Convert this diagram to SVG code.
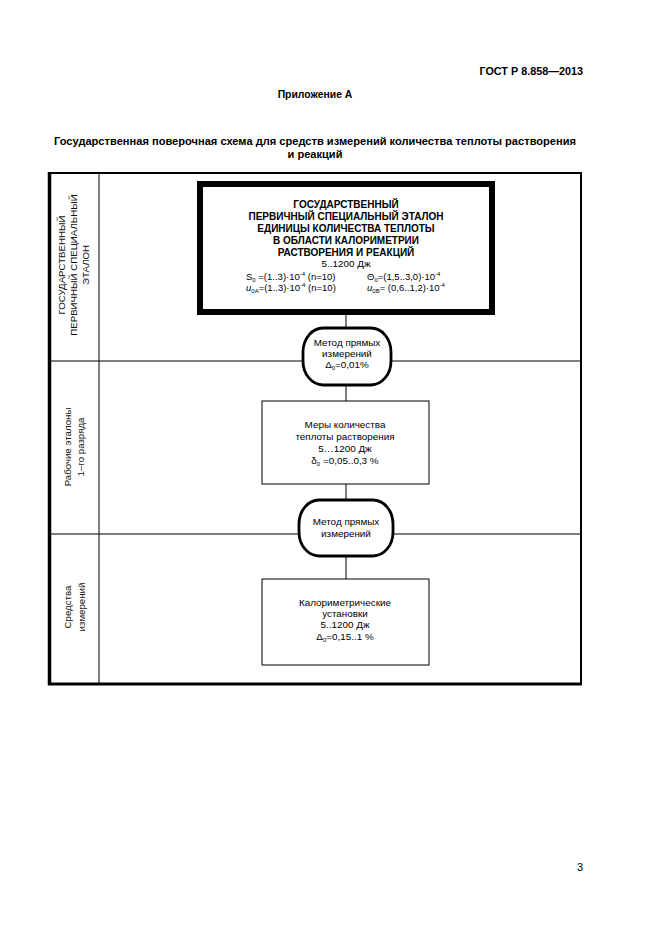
<svg xmlns="http://www.w3.org/2000/svg" width="661" height="935" viewBox="0 0 661 935">
<style>
text{font-family:"Liberation Sans",Arial,sans-serif;fill:#000}
.b{font-weight:bold}
.h{font-size:11.1px;font-weight:bold}
.n{font-size:9.9px;text-anchor:middle}
.m{font-size:10px;font-weight:bold;text-anchor:middle}
.s{font-size:9.5px}
.lab{font-size:9.7px;text-anchor:middle;fill:#111}
.thin{stroke:#000;stroke-width:1;fill:none}
.box{fill:#fff;stroke:#000;stroke-width:1}
.oval{fill:#fff;stroke:#000;stroke-width:2.8}
</style>
<rect width="661" height="935" fill="#fff"/>
<text class="b" x="583" y="75" font-size="10.8" text-anchor="end">ГОСТ Р 8.858—2013</text>
<text class="b" x="315" y="98" font-size="10.4" text-anchor="middle">Приложение А</text>
<text class="h" x="315" y="145" text-anchor="middle">Государственная поверочная схема для средств измерений количества теплоты растворения</text>
<text class="h" x="315" y="158" text-anchor="middle">и реакций</text>
<g id="table">
<rect x="49" y="173" width="532" height="511" fill="none" stroke="#000" stroke-width="2"/>
<line x1="49.5" y1="172" x2="49.5" y2="685" stroke="#000" stroke-width="3.5"/>
<line x1="48" y1="684" x2="582" y2="684" stroke="#000" stroke-width="3"/>
<line class="thin" x1="99" y1="174" x2="99" y2="683"/>
<line class="thin" x1="50" y1="361" x2="580" y2="361"/>
<line class="thin" x1="50" y1="534" x2="580" y2="534"/>
</g>
<g id="labels">
<text class="lab" transform="translate(64.5,265) rotate(-90)">ГОСУДАРСТВЕННЫЙ</text>
<text class="lab" transform="translate(76.5,265) rotate(-90)">ПЕРВИЧНЫЙ СПЕЦИАЛЬНЫЙ</text>
<text class="lab" transform="translate(88.5,265) rotate(-90)">ЭТАЛОН</text>
<text class="lab" transform="translate(70.5,447) rotate(-90)">Рабочие эталоны</text>
<text class="lab" transform="translate(84,447) rotate(-90)">1–го разряда</text>
<text class="lab" transform="translate(71,607) rotate(-90)">Средства</text>
<text class="lab" transform="translate(84.5,607) rotate(-90)">измерений</text>
</g>
<g id="connectors">
<line class="thin" x1="346" y1="312" x2="346" y2="330"/>
<line class="thin" x1="346" y1="384" x2="346" y2="401"/>
<line class="thin" x1="346" y1="484" x2="346" y2="501"/>
<line class="thin" x1="346" y1="555" x2="346" y2="579"/>
</g>
<g id="primary">
<rect x="200" y="184" width="292" height="128" fill="#fff" stroke="#000" stroke-width="6"/>
<text class="m" x="346" y="208">ГОСУДАРСТВЕННЫЙ</text>
<text class="m" x="346" y="220">ПЕРВИЧНЫЙ СПЕЦИАЛЬНЫЙ ЭТАЛОН</text>
<text class="m" x="346" y="232">ЕДИНИЦЫ КОЛИЧЕСТВА ТЕПЛОТЫ</text>
<text class="m" x="346" y="244">В ОБЛАСТИ КАЛОРИМЕТРИИ</text>
<text class="m" x="346" y="256">РАСТВОРЕНИЯ И РЕАКЦИЙ</text>
<text class="n" x="346" y="267">5..1200 Дж</text>
<text class="s" x="246" y="280">S<tspan font-size="6" dy="2">0</tspan><tspan dy="-2"> =(1..3)·10</tspan><tspan font-size="6" dy="-4">-4</tspan><tspan dy="4"> (n=10)</tspan></text>
<text class="s" x="367" y="280">Θ<tspan font-size="6" dy="2">0</tspan><tspan dy="-2">=(1,5..3,0)·10</tspan><tspan font-size="6" dy="-4">-4</tspan></text>
<text class="s" x="246" y="291"><tspan font-style="italic">u</tspan><tspan font-size="6" dy="2">0A</tspan><tspan dy="-2">=(1..3)·10</tspan><tspan font-size="6" dy="-4">-4</tspan><tspan dy="4"> (n=10)</tspan></text>
<text class="s" x="367" y="291"><tspan font-style="italic">u</tspan><tspan font-size="6" dy="2">0B</tspan><tspan dy="-2">= (0,6..1,2)·10</tspan><tspan font-size="6" dy="-4">-4</tspan></text>
</g>
<g id="method1">
<rect class="oval" x="303" y="328" width="88" height="57" rx="20" ry="24"/>
<text class="n" x="347" y="346">Метод прямых</text>
<text class="n" x="347" y="357">измерений</text>
<text class="n" x="347" y="368">Δ<tspan font-size="6" dy="2">0</tspan><tspan dy="-2">=0,01%</tspan></text>
</g>
<g id="working">
<rect class="box" x="262" y="401" width="167" height="83"/>
<text class="n" x="345" y="428">Меры количества</text>
<text class="n" x="345" y="440">теплоты растворения</text>
<text class="n" x="345" y="452">5…1200 Дж</text>
<text class="n" x="345" y="464">δ<tspan font-size="6" dy="2">0</tspan><tspan dy="-2"> =0,05..0,3 %</tspan></text>
</g>
<g id="method2">
<rect class="oval" x="299" y="500" width="94" height="56" rx="20" ry="24"/>
<text class="n" x="346" y="525">Метод прямых</text>
<text class="n" x="346" y="537">измерений</text>
</g>
<g id="instruments">
<rect class="box" x="262" y="579" width="167" height="86"/>
<text class="n" x="345" y="606">Калориметрические</text>
<text class="n" x="345" y="617">установки</text>
<text class="n" x="345" y="628">5..1200 Дж</text>
<text class="n" x="345" y="640">Δ<tspan font-size="6" dy="2">0</tspan><tspan dy="-2">=0,15..1 %</tspan></text>
</g>
<text x="580" y="871" font-size="11" text-anchor="middle">3</text>
</svg>
